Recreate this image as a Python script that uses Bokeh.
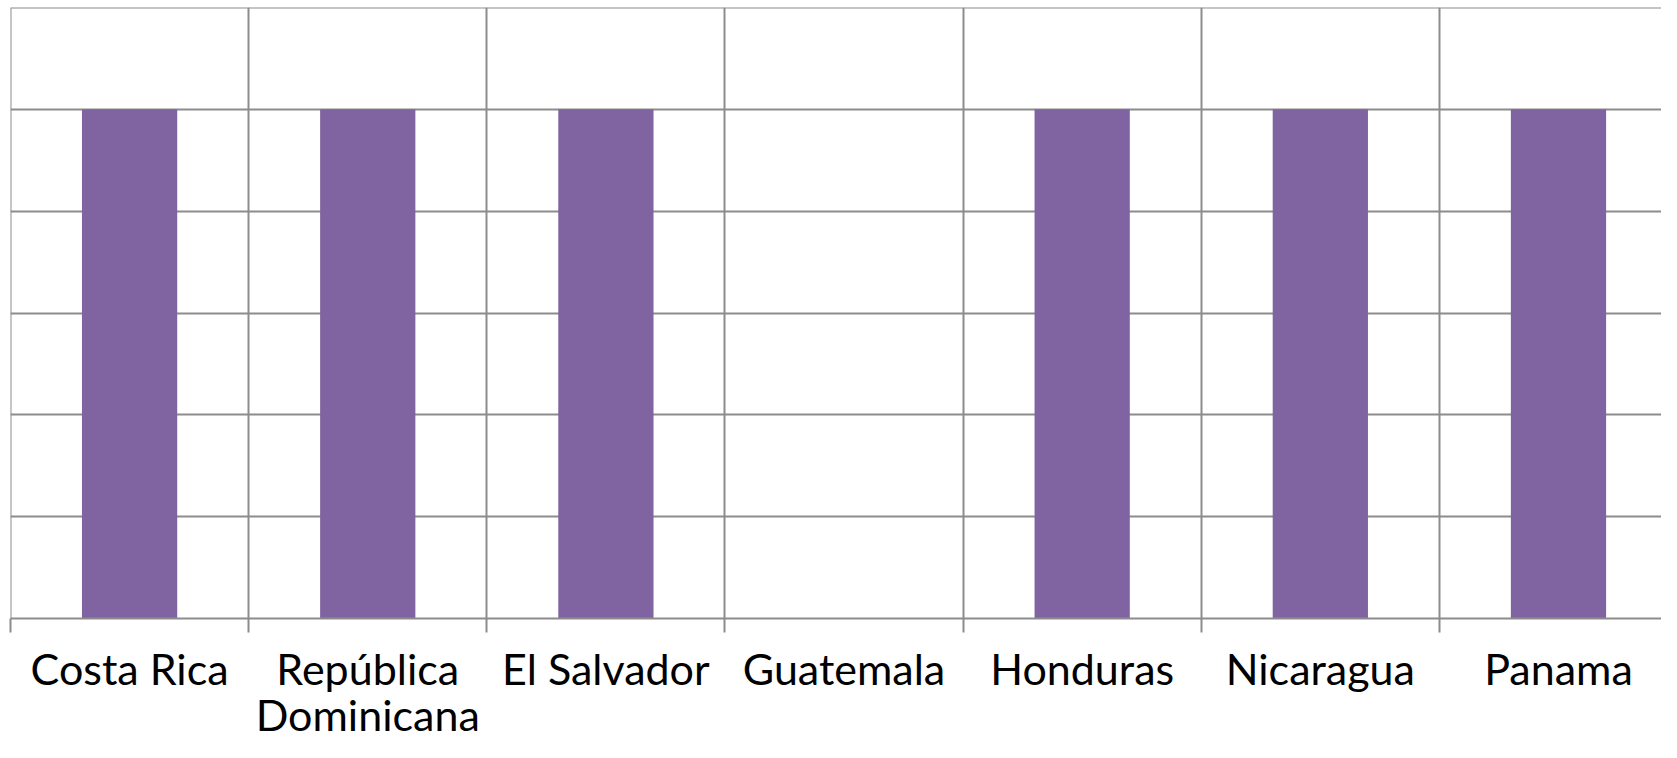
from bokeh.plotting import figure
from bokeh.models import Range1d, FixedTicker, LinearAxis, ColumnDataSource
from bokeh.embed import file_html
from bokeh.resources import INLINE

# ---- data ----
countries = ["Costa Rica", "República Dominicana", "El Salvador", "Guatemala",
             "Honduras", "Nicaragua", "Panama"]
label_line1 = ["Costa Rica", "República", "El Salvador", "Guatemala",
               "Honduras", "Nicaragua", "Panama"]
label_line2 = ["", "Dominicana", "", "", "", "", ""]
values = [5, 5, 5, 0, 5, 5, 5]
y_ticks = [0, 1, 2, 3, 4, 5, 6]

# ---- layout ----
W, H = 1661, 742
LEFT, TOP, BOTTOM = 10, 7, 124
CAT_PX = 238.15
x_end = (W - LEFT) / CAT_PX
y_end = 6
EPS = 1e-4   # keep the border grid lines off the exact range ends

GRID = "#8c8c8c"
BAR = "#8064A2"
FONT = "Lato"
FSIZE = "43px"

centers = [i + 0.5 for i in range(len(countries))]
bounds = list(range(len(countries) + 1))
src = ColumnDataSource(dict(x=centers, top=values, name=countries))

p = figure(width=W, height=H, output_backend="svg", toolbar_location=None,
           x_range=Range1d(-EPS, x_end), y_range=Range1d(0, y_end + EPS),
           y_axis_location=None, x_axis_location=None,
           min_border_left=LEFT, min_border_right=0, min_border_top=TOP,
           min_border_bottom=BOTTOM)
p.outline_line_color = None
p.background_fill_color = "white"
p.border_fill_color = "white"

p.xgrid.ticker = FixedTicker(ticks=bounds)
p.ygrid.ticker = FixedTicker(ticks=y_ticks)
for g in (p.xgrid, p.ygrid):
    g.grid_line_color = GRID
    g.grid_line_width = 2

p.vbar(x="x", top="top", bottom=0, width=0.4, source=src,
       fill_color=BAR, line_color=None)

# axis: baseline, boundary tick marks, first line of labels
ax1 = LinearAxis(ticker=FixedTicker(ticks=centers, minor_ticks=bounds))
ax1.major_label_overrides = {c: t for c, t in zip(centers, label_line1)}
ax1.axis_line_color = GRID
ax1.axis_line_width = 2
ax1.major_tick_line_color = None
ax1.major_tick_out = 14
ax1.major_tick_in = 0
ax1.minor_tick_line_color = GRID
ax1.minor_tick_line_width = 2
ax1.minor_tick_out = 14
ax1.minor_tick_in = 0
ax1.major_label_standoff = 10
ax1.major_label_text_font = FONT
ax1.major_label_text_font_size = FSIZE
ax1.major_label_text_color = "black"
p.add_layout(ax1, "below")

# second line of the wrapped category names
ax2 = LinearAxis(ticker=FixedTicker(ticks=centers))
ax2.major_label_overrides = {c: (t if t else " ") for c, t in zip(centers, label_line2)}
ax2.axis_line_color = None
ax2.major_tick_line_color = None
ax2.minor_tick_line_color = None
ax2.major_tick_out = 0
ax2.major_tick_in = 0
ax2.major_label_standoff = -8
ax2.major_label_text_font = FONT
ax2.major_label_text_font_size = FSIZE
ax2.major_label_text_color = "black"
p.add_layout(ax2, "below")

open("out.html", "w").write(file_html(p, INLINE))
